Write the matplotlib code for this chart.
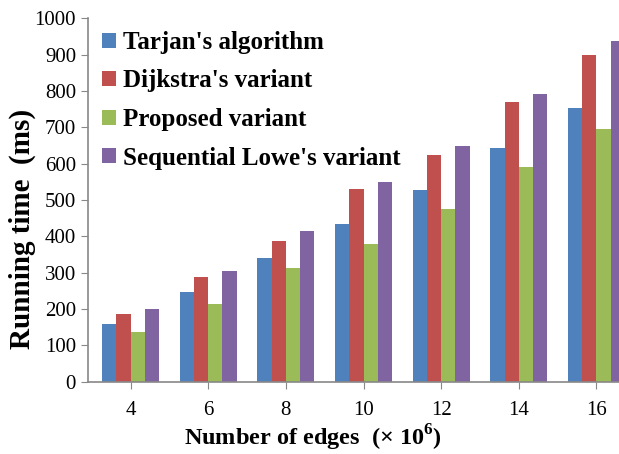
import numpy as np
from matplotlib import pyplot as plt

edges = ["4", "6", "8", "10", "12", "14", "16"]
tarjan = [160, 247, 340, 433, 528, 642, 753]
dijkstra = [186, 287, 388, 529, 625, 770, 898]
proposed = [138, 213, 314, 379, 476, 590, 695]
sequential = [200, 305, 415, 550, 648, 792, 938]

series = [
    ("Tarjan's algorithm", tarjan, "#4F81BD"),
    ("Dijkstra's variant", dijkstra, "#C0504D"),
    ("Proposed variant", proposed, "#9BBB59"),
    ("Sequential Lowe's variant", sequential, "#8064A2"),
]

plt.rcParams["font.family"] = ["Liberation Serif", "DejaVu Serif"]
plt.rcParams["mathtext.fontset"] = "custom"
plt.rcParams["mathtext.rm"] = "Liberation Serif:bold"
plt.rcParams["mathtext.bf"] = "Liberation Serif:bold"

fig = plt.figure(figsize=(6.19, 4.54), dpi=100)
ax = fig.add_axes([0.142, 0.159, 0.858, 0.801])

x = np.arange(len(edges))
w = 0.183
for i, (name, vals, color) in enumerate(series):
    ax.bar(x + (i - 1.5) * w, vals, w, color=color, label=name)

ax.set_xlim(-0.55, 6.29)
ax.set_ylim(0, 1000)
ax.set_yticks(range(0, 1001, 100))
ax.set_xticks(x)
ax.set_xticklabels(edges)
ax.tick_params(labelsize=15, color="#888888", length=5)
ax.tick_params(axis="x", pad=9)

for side in ("top", "right"):
    ax.spines[side].set_visible(False)
for side in ("left", "bottom"):
    ax.spines[side].set_color("#888888")
    ax.spines[side].set_linewidth(1.2)

# labels placed like the original (centred on the chart, not the plot area)
ax.set_ylabel("Running time  (ms)", fontsize=21, fontweight="bold")
ax.yaxis.set_label_coords(22 / 619, 225 / 454, transform=fig.transFigure)
ax.set_xlabel(r"Number of edges  (× 10$^{6}$)", fontsize=17.5,
              fontweight="bold")
ax.xaxis.set_label_coords(313 / 619, 1 - 438 / 454, transform=fig.transFigure)
ax.xaxis.label.set_va("center")
ax.yaxis.label.set_va("center")

ax.legend(loc="upper left", bbox_to_anchor=(102 / 619, 1 - 31 / 454),
          bbox_transform=fig.transFigure, frameon=False,
          prop={"size": 18, "weight": "bold"}, handlelength=0.55,
          handleheight=0.55, handletextpad=0.28, labelspacing=0.62,
          borderpad=0, borderaxespad=0)

fig.savefig("out.png", dpi=100)
